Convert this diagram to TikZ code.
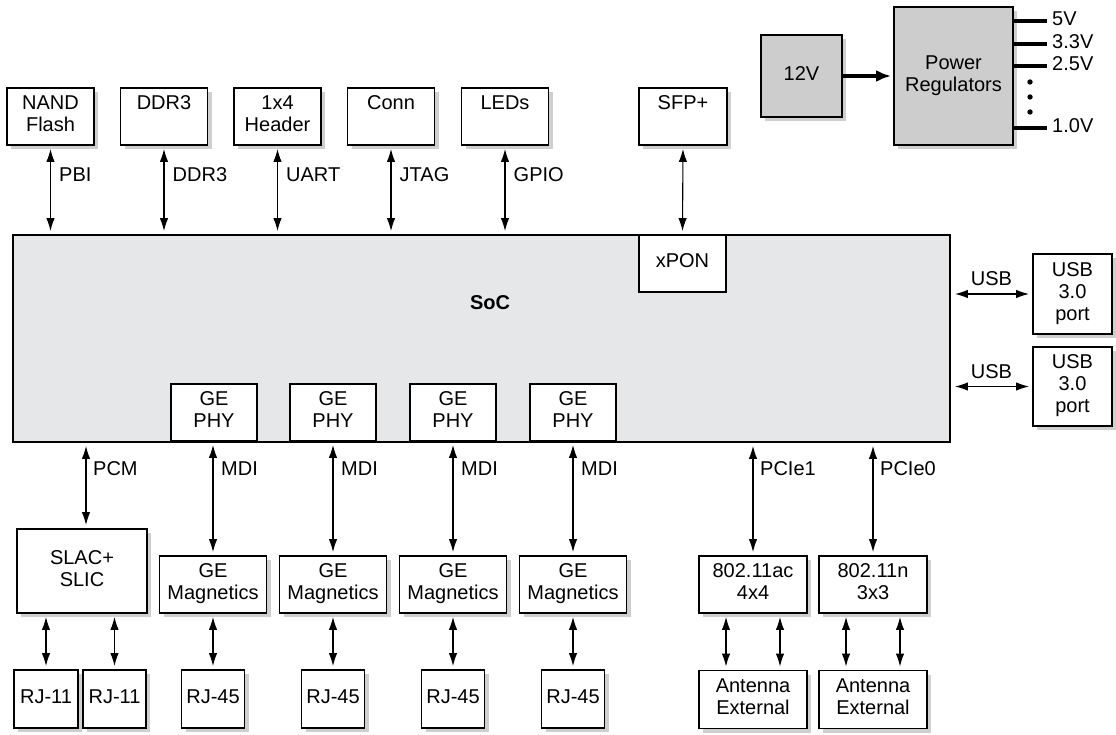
\documentclass[tikz,border=0pt]{standalone}
\usepackage{fontspec}
\setmainfont{Liberation Sans}
\usetikzlibrary{arrows.meta,shadows}
\definecolor{socgray}{HTML}{E6E7E8}
\definecolor{pwrgray}{HTML}{CDCDCD}
\definecolor{shadowc}{HTML}{CFCFCF}
\newcommand\tx[1]{\begin{tabular}{@{}c@{}}#1\end{tabular}}
\begin{document}
\begin{tikzpicture}[x=1pt,y=-1pt,
  every node/.style={font=\fontsize{20}{22}\selectfont, inner sep=0pt},
  shd/.style={drop shadow={shadow xshift=4pt,shadow yshift=-4pt,fill=shadowc,opacity=1}},
  box/.style={draw, line width=1.9pt, fill=white, align=center, shd},
  inbox/.style={draw, line width=1.9pt, fill=white, align=center},
  biarrow/.style={{Latex[length=13pt,width=8.5pt]}-{Latex[length=13pt,width=8.5pt]}, line width=1.1pt, shorten <=3pt, shorten >=3pt},
  lbl/.style={anchor=west},
  pwrline/.style={line width=3.4pt}
]
\useasboundingbox (0,0) rectangle (1116,735);

% SoC
\node[draw, line width=1.9pt, fill=socgray, minimum width=937pt, minimum height=207pt] (soc) at (481.5,338.5) {};
\node[font=\fontsize{20}{22}\selectfont\bfseries] (soclbl) at (490,305) {\tx{SoC}};
\node[inbox, minimum width=87pt, minimum height=57pt] (xpon) at (682.5,263.5) {\tx{xPON}};
\foreach \i/\x in {1/214,2/333,3/453,4/573}{
  \node[inbox, minimum width=86pt, minimum height=57pt] (phy\i) at (\x,412.5) {\tx{GE\\PHY}};
}

% top boxes
\node[box, minimum width=87pt, minimum height=57pt] (nand) at (50.5,116.5) {\tx{NAND\\Flash}};
\node[box, minimum width=87pt, minimum height=57pt] (ddr) at (164,116.5) {\tx{DDR3\\~}};
\node[box, minimum width=87pt, minimum height=57pt] (hdr) at (277.5,116.5) {\tx{1x4\\Header}};
\node[box, minimum width=87pt, minimum height=57pt] (conn) at (391,116.5) {\tx{Conn\\~}};
\node[box, minimum width=87pt, minimum height=57pt] (leds) at (505,116.5) {\tx{LEDs\\~}};
\node[box, minimum width=88pt, minimum height=57pt] (sfp) at (683,116.5) {\tx{SFP+\\~}};

\draw[biarrow] (nand.south) -- (nand.south |- soc.north);
\draw[biarrow] (ddr.south) -- (ddr.south |- soc.north);
\draw[biarrow] (hdr.south) -- (hdr.south |- soc.north);
\draw[biarrow] (conn.south) -- (conn.south |- soc.north);
\draw[biarrow] (leds.south) -- (leds.south |- soc.north);
\draw[biarrow] (sfp.south) -- (xpon.north);
\node[lbl] (lpbi) at (59,177) {\tx{PBI}};
\node[lbl] (lddr) at (172.5,177) {\tx{DDR3}};
\node[lbl] (luart) at (286,177) {\tx{UART}};
\node[lbl] (ljtag) at (399.5,177) {\tx{JTAG}};
\node[lbl] (lgpio) at (513.5,177) {\tx{GPIO}};

% USB
\node[box, minimum width=79pt, minimum height=80pt] (usb1) at (1072.5,294) {\tx{USB\\3.0\\port}};
\node[box, minimum width=79pt, minimum height=79pt] (usb2) at (1072.5,386.5) {\tx{USB\\3.0\\port}};
\draw[biarrow, shorten <=3pt, shorten >=4pt] (usb1.west) -- (usb1.west -| soc.east) node[midway, above=1pt] (lusb1) {\tx{USB}};
\draw[biarrow, shorten <=3pt, shorten >=4pt] (usb2.west) -- (usb2.west -| soc.east) node[midway, above=1pt] (lusb2) {\tx{USB}};

% bottom: SLAC
\node[box, minimum width=130pt, minimum height=84pt] (slac) at (82,571) {\tx{SLAC+\\SLIC}};
\coordinate (pcmx) at (86,0);
\draw[biarrow] (pcmx |- soc.south) -- (pcmx |- slac.north);
\node[lbl] (lpcm) at (93,471) {\tx{PCM}};
\node[box, minimum width=64pt, minimum height=58pt] (rj11a) at (46,699) {\tx{RJ-11}};
\node[box, minimum width=63pt, minimum height=58pt] (rj11b) at (114.5,699) {\tx{RJ-11}};
\draw[biarrow] (rj11a.north) -- (rj11a.north |- slac.south);
\draw[biarrow] (rj11b.north) -- (rj11b.north |- slac.south);

% GE magnetics and RJ-45
\foreach \i/\x in {1/213,2/333,3/453,4/573}{
  \node[box, minimum width=107pt, minimum height=57pt] (mag\i) at (\x,584.5) {\tx{GE\\Magnetics}};
  \node[box, minimum width=63pt, minimum height=58pt] (rj\i) at (\x,699) {\tx{RJ-45}};
  \draw[biarrow] (mag\i.north |- phy\i.south) -- (mag\i.north);
  \draw[biarrow] (mag\i.south) -- (rj\i.north);
  \node[lbl] (lmdi\i) at (\x+8,471) {\tx{MDI}};
}

% WiFi
\node[box, minimum width=108pt, minimum height=57pt] (wac) at (753,584.5) {\tx{802.11ac\\4x4}};
\node[box, minimum width=108pt, minimum height=57pt] (wn) at (873,584.5) {\tx{802.11n\\3x3}};
\draw[biarrow] (wac.north) -- (wac.north |- soc.south);
\draw[biarrow] (wn.north) -- (wn.north |- soc.south);
\node[lbl] (lpcie1) at (760,471) {\tx{PCIe1}};
\node[lbl] (lpcie0) at (880,471) {\tx{PCIe0}};
\node[box, minimum width=108pt, minimum height=58pt] (anta) at (753,699.5) {\tx{Antenna\\External}};
\node[box, minimum width=108pt, minimum height=58pt] (antb) at (873,699.5) {\tx{Antenna\\External}};
\foreach \n/\d in {wac/anta,wn/antb}{
  \draw[biarrow] ([xshift=-27pt]\n.south) -- ([xshift=-27pt]\d.north);
  \draw[biarrow] ([xshift=27pt]\n.south) -- ([xshift=27pt]\d.north);
}

% Power
\node[box, fill=pwrgray, minimum width=81pt, minimum height=82pt] (v12) at (801.5,76) {\tx{12V}};
\node[box, fill=pwrgray, minimum width=119pt, minimum height=138pt] (pwr) at (953.5,76) {\tx{Power\\Regulators}};
\draw[line width=3.2pt, -{Latex[length=15pt,width=12pt]}, shorten >=2pt] (v12.east) -- (pwr.west);
\foreach \k/\y/\t in {a/21/5V,b/44/3.3V,c/66/2.5V,d/128/1.0V}{
  \coordinate (o\k) at (1047,\y);
  \draw[pwrline] (pwr.east |- o\k) -- (o\k);
  \node[lbl] (l\k) at (1052,\y) {\tx{\t}};
}
\foreach \y in {82,97,112}{
  \fill (1030,\y) circle (2.7pt);
}
\end{tikzpicture}
\end{document}
